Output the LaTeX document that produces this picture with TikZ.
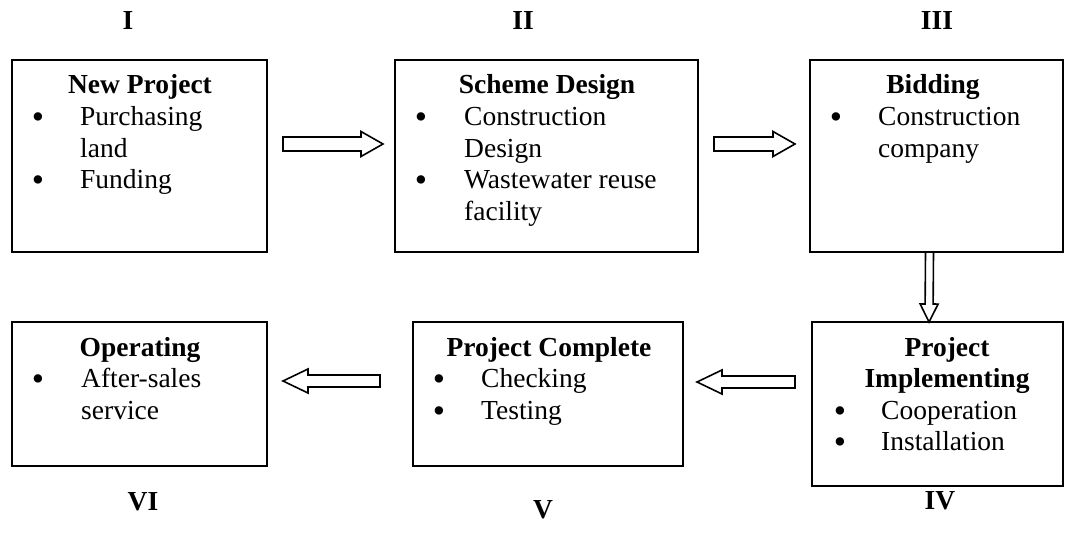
\documentclass[tikz,border=0pt]{standalone}
\usepackage{fontspec}
\setmainfont{Liberation Serif}
\usetikzlibrary{calc}

\tikzset{
  box/.style={draw, line width=1.8pt, inner sep=0pt, outer sep=0pt, anchor=north west},
  txt/.style={anchor=base west, inner sep=0pt, font=\fontsize{27.5}{31.6}\selectfont},
  head/.style={anchor=base, inner sep=0pt, font=\fontsize{27.5}{31.6}\selectfont\bfseries},
  bul/.style={anchor=base, inner sep=0pt, yshift=-3pt, font=\fontsize{35}{35}\selectfont},
  numeral/.style={anchor=base, inner sep=0pt, font=\fontsize{27.5}{31.6}\selectfont\bfseries},
  blockarrow/.style={draw, line width=1.6pt, line join=miter, fill=white},
}

% outlined block arrow: tail, tip, shaft half-width, head half-width, head length
\newcommand\blockarrow[5]{%
  \path ($(#2)!#5!(#1)$) coordinate (ba);
  \draw[blockarrow] ($(#1)!#3!90:(#2)$) -- ($(ba)!#3!-90:(#1)$) -- ($(ba)!#4!-90:(#1)$)
    -- (#2) -- ($(ba)!#4!90:(#1)$) -- ($(ba)!#3!90:(#1)$) -- ($(#1)!#3!-90:(#2)$) -- cycle;
}

\begin{document}
\begin{tikzpicture}[x=1pt, y=-1pt]
  \fill[white] (0,0) rectangle (1076,534);
  \useasboundingbox (0,0) rectangle (1076,534);

  % stage boxes
  \node[box, minimum width=255pt, minimum height=192pt] (np)   at (12,60)  {};
  \node[box, minimum width=303pt, minimum height=192pt] (sd)   at (395,60) {};
  \node[box, minimum width=253pt, minimum height=192pt] (bid)  at (810,60) {};
  \node[box, minimum width=251pt, minimum height=164pt] (impl) at (812,322) {};
  \node[box, minimum width=270pt, minimum height=144pt] (pc)   at (413,322) {};
  \node[box, minimum width=255pt, minimum height=144pt] (op)   at (12,322) {};

  % I  New Project
  \node[head] (np-h) at (140,94) {New Project};
  \node[bul] (np-b1) at (38,125.6) {•};
  \node[txt] (np-1) at (80,125.6) {Purchasing};
  \node[txt] (np-2) at (80,157.2) {land};
  \node[bul] (np-b2) at (38,188.8) {•};
  \node[txt] (np-3) at (80,188.8) {Funding};

  % II  Scheme Design
  \node[head] (sd-h) at (547,94) {Scheme Design};
  \node[bul] (sd-b1) at (421,125.6) {•};
  \node[txt] (sd-1) at (464,125.6) {Construction};
  \node[txt] (sd-2) at (464,157.2) {Design};
  \node[bul] (sd-b2) at (421,188.8) {•};
  \node[txt] (sd-3) at (464,188.8) {Wastewater reuse};
  \node[txt] (sd-4) at (464,220.4) {facility};

  % III  Bidding
  \node[head] (bid-h) at (933,94) {Bidding};
  \node[bul] (bid-b1) at (836,125.6) {•};
  \node[txt] (bid-1) at (878,125.6) {Construction};
  \node[txt] (bid-2) at (878,157.2) {company};

  % IV  Project Implementing
  \node[head] (impl-h1) at (947,356) {Project};
  \node[head] (impl-h2) at (947,387.6) {Implementing};
  \node[bul] (impl-b1) at (840,419.2) {•};
  \node[txt] (impl-1) at (881,419.2) {Cooperation};
  \node[bul] (impl-b2) at (840,450.8) {•};
  \node[txt] (impl-2) at (881,450.8) {Installation};

  % V  Project Complete
  \node[head] (pc-h) at (549,356) {Project Complete};
  \node[bul] (pc-b1) at (439,387.6) {•};
  \node[txt] (pc-1) at (481,387.6) {Checking};
  \node[bul] (pc-b2) at (439,419.2) {•};
  \node[txt] (pc-2) at (481,419.2) {Testing};

  % VI  Operating
  \node[head] (op-h) at (140,356) {Operating};
  \node[bul] (op-b1) at (38,387.6) {•};
  \node[txt] (op-1) at (81,387.6) {After-sales};
  \node[txt] (op-2) at (81,419.2) {service};

  % stage numerals
  \node[numeral] (n1) at (128,30) {I};
  \node[numeral] (n2) at (523,30) {II};
  \node[numeral] (n3) at (937,30) {III};
  \node[numeral] (n4) at (940,509) {IV};
  \node[numeral] (n5) at (543,518) {V};
  \node[numeral] (n6) at (143,510) {VI};

  % arrow ends
  \coordinate (a1s) at (283,144);  \coordinate (a1e) at (383,144);
  \coordinate (a2s) at (714,144);  \coordinate (a2e) at (795,144);
  \coordinate (a3s) at ($(bid.south)+(-7,0)$);
  \coordinate (a3e) at ($(impl.north)+(-8.5,0)$);
  \coordinate (a4s) at (795,382);  \coordinate (a4e) at (697,382);
  \coordinate (a5s) at (380,381);  \coordinate (a5e) at (283,381);

  \blockarrow{a1s}{a1e}{7pt}{12.5pt}{22pt}
  \blockarrow{a2s}{a2e}{7pt}{12.5pt}{22pt}
  \blockarrow{a3s}{a3e}{4pt}{9pt}{18pt}
  \blockarrow{a4s}{a4e}{6pt}{12pt}{25pt}
  \blockarrow{a5s}{a5e}{6pt}{12pt}{25pt}
\end{tikzpicture}
\end{document}
